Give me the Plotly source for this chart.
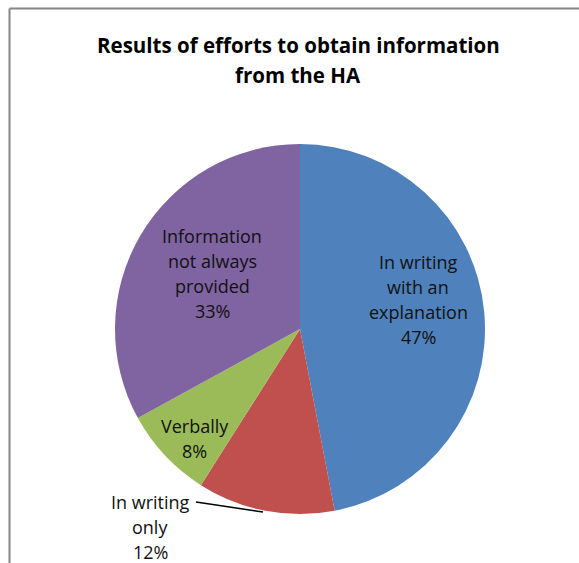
import plotly.graph_objects as go

# ---- data ----
categories = ["In writing<br>with an<br>explanation", "In writing<br>only", "Verbally", "Information<br>not always<br>provided"]
values = [47, 12, 8, 33]
colors = ["#4F81BD", "#C0504D", "#9BBB59", "#8064A2"]
title_lines = ["Results of efforts to obtain information", "from the HA"]

W, H = 579, 563
FONT = "Open Sans"

def px(x):
    return x / W

def py(y):
    return 1 - y / H

# pie geometry (pixels)
cx, cy, r = 300, 329, 185

fig = go.Figure(go.Pie(
    values=values,
    labels=[c.replace("<br>", " ") for c in categories],
    sort=False,
    direction="clockwise",
    rotation=0,
    marker=dict(colors=colors, line=dict(width=0)),
    textinfo="none",
    hoverinfo="label+percent",
    domain=dict(x=[px(cx - r), px(cx + r)], y=[py(cy + r), py(cy - r)]),
    showlegend=False,
))

total = sum(values)
# label block centers (pixels) and line spacing
label_pos = [(418, 299), (150, 527), (195, 438), (212, 273)]
line_gap = 25

annotations = []
for cat, v, (lx, ly) in zip(categories, values, label_pos):
    lines = cat.split("<br>") + [f"{round(100 * v / total)}%"]
    n = len(lines)
    for i, t in enumerate(lines):
        yy = ly + (i - (n - 1) / 2) * line_gap
        annotations.append(dict(
            x=px(lx), y=py(yy), xref="paper", yref="paper",
            text=t, showarrow=False, xanchor="center", yanchor="middle",
            font=dict(family=FONT, size=18, color="#111111"),
        ))

for i, t in enumerate(title_lines):
    annotations.append(dict(
        x=px(298), y=py(45 + i * 30), xref="paper", yref="paper",
        text=f"<b>{t}</b>", showarrow=False, xanchor="center", yanchor="middle",
        font=dict(family=FONT, size=20.5, color="#000000"),
    ))

shapes = [
    # chart border (left and top)
    dict(type="line", xref="paper", yref="paper", x0=px(9.5), x1=px(9.5), y0=0, y1=py(8.5),
         line=dict(color="#868686", width=2)),
    dict(type="line", xref="paper", yref="paper", x0=px(9.5), x1=1, y0=py(8.5), y1=py(8.5),
         line=dict(color="#868686", width=2)),
    # leader line for the small outside label
    dict(type="line", xref="paper", yref="paper", x0=px(196), y0=py(502), x1=px(263), y1=py(512),
         line=dict(color="#000000", width=1.5)),
]

fig.update_layout(
    width=W, height=H,
    margin=dict(l=0, r=0, t=0, b=0),
    paper_bgcolor="white",
    plot_bgcolor="white",
    annotations=annotations,
    shapes=shapes,
)

fig.write_html("out.html")
